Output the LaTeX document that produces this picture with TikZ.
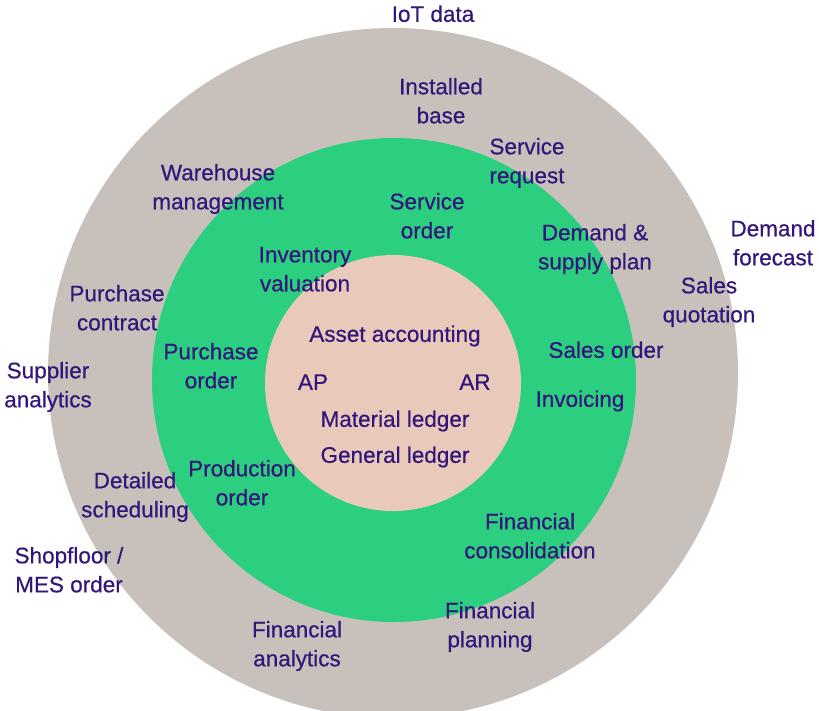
\documentclass[tikz,border=0pt]{standalone}
\usepackage{fontspec}
\setmainfont{Liberation Sans}
\newfontfamily\lblfont[AutoFakeBold=0.5]{Liberation Sans}
\definecolor{outerc}{RGB}{199,192,187}
\definecolor{midc}{RGB}{44,207,127}
\definecolor{innerc}{RGB}{233,201,185}
\definecolor{txt}{RGB}{50,22,122}
\newcommand\twoln[2]{\strut #1\\\strut #2}
\newcommand\onel[1]{\strut #1}
\begin{document}
\begin{tikzpicture}[x=1pt,y=-1pt,
  lbl/.style={font=\lblfont\bfseries\fontsize{22.5}{29}\selectfont, text=txt, align=center, inner sep=0pt, yshift=-2pt}]
\clip (0,0) rectangle (819,710);
\fill[outerc] (393,373) circle[radius=345];
\fill[midc] (394,380) circle[radius=242];
\fill[innerc] (393,383) circle[radius=128];
% outer ring labels
\node[lbl] (iot) at (433,14) {\onel{IoT data}};
\node[lbl] (inst) at (441,101) {\twoln{Installed}{base}};
\node[lbl] (sreq) at (527,161) {\twoln{Service}{request}};
\node[lbl] (wh) at (218,187) {\twoln{Warehouse}{management}};
\node[lbl] (dfc) at (773,243) {\twoln{Demand}{forecast}};
\node[lbl] (squo) at (709,300) {\twoln{Sales}{quotation}};
\node[lbl] (pcon) at (117,308) {\twoln{Purchase}{contract}};
\node[lbl] (sup) at (48,385) {\twoln{Supplier}{analytics}};
\node[lbl] (dsch) at (135,495) {\twoln{Detailed}{scheduling}};
\node[lbl] (shop) at (69,570) {\twoln{Shopfloor /}{MES order}};
\node[lbl] (fpl) at (490,625) {\twoln{Financial}{planning}};
\node[lbl] (fan) at (297,644) {\twoln{Financial}{analytics}};
% green ring labels
\node[lbl] (sord) at (427,216) {\twoln{Service}{order}};
\node[lbl] (dsp) at (595,247) {\twoln{Demand \&}{supply plan}};
\node[lbl] (inv) at (305,269) {\twoln{Inventory}{valuation}};
\node[lbl] (po) at (211,366) {\twoln{Purchase}{order}};
\node[lbl] (so) at (606,350) {\onel{Sales order}};
\node[lbl] (invc) at (580,399) {\onel{Invoicing}};
\node[lbl] (prod) at (242,483) {\twoln{Production}{order}};
\node[lbl] (fcon) at (530,536) {\twoln{Financial}{consolidation}};
% inner circle labels
\node[lbl] (asset) at (395,334) {\onel{Asset accounting}};
\node[lbl] (ap) at (313,382) {\onel{AP}};
\node[lbl] (ar) at (475,382) {\onel{AR}};
\node[lbl] (mat) at (395,419) {\onel{Material ledger}};
\node[lbl] (gen) at (395,455) {\onel{General ledger}};
\end{tikzpicture}
\end{document}
